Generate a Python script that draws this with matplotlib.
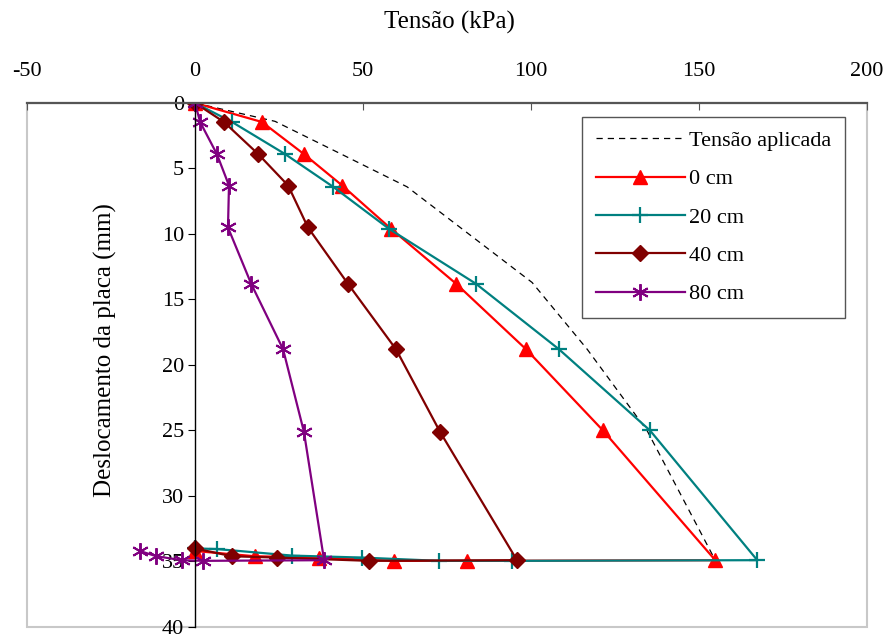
import matplotlib.pyplot as plt
from matplotlib.patches import Rectangle

# Tensão (kPa) x Deslocamento (mm) for each depth
aplicada_x = [0, 23.8, 43.5, 63.1, 78.9, 100.3, 116.7, 134.5, 154.8]
aplicada_y = [0, 1.4, 3.9, 6.4, 9.5, 13.7, 18.8, 25.0, 34.9]

cm0_x = [0, 19.9, 32.4, 43.8, 58.3, 77.7, 98.5, 121.4, 154.8, 81.0, 59.2, 36.9, 17.9, 0]
cm0_y = [0, 1.45, 3.9, 6.3, 9.6, 13.8, 18.8, 25.0, 34.9, 34.95, 34.95, 34.7, 34.6, 34.2]

cm20_x = [0, 11.0, 26.8, 41.1, 57.7, 83.6, 108.3, 135.4, 167.3, 94.3, 72.6, 49.7, 28.9, 6.5, 0]
cm20_y = [0, 1.45, 3.9, 6.4, 9.6, 13.8, 18.8, 25.0, 34.9, 34.95, 34.95, 34.7, 34.55, 34.05, 34.0]

cm40_x = [0, 8.6, 18.8, 27.7, 33.6, 45.5, 59.8, 72.9, 95.8, 51.8, 24.4, 11.0, 0]
cm40_y = [0, 1.45, 3.9, 6.3, 9.5, 13.8, 18.8, 25.1, 34.9, 34.95, 34.7, 34.6, 34.0]

cm80_x = [0, 1.5, 6.5, 10.1, 9.8, 16.7, 26.2, 32.4, 38.4, 2.4, -3.9, -11.5, -16.4]
cm80_y = [0, 1.45, 3.9, 6.3, 9.5, 13.8, 18.8, 25.1, 34.9, 34.95, 34.9, 34.6, 34.2]

x_ticks = [-50, 0, 50, 100, 150, 200]
y_ticks = [0, 5, 10, 15, 20, 25, 30, 35, 40]

plt.rcParams['font.family'] = ['Liberation Serif', 'DejaVu Serif']
plt.rcParams['font.size'] = 16
plt.rcParams['axes.unicode_minus'] = False

fig = plt.figure(figsize=(8.89, 6.35), dpi=100)
ax = fig.add_axes([0.0304, 0.0126, 0.945, 0.8252])

ax.plot(aplicada_x, aplicada_y, color='black', lw=0.9, ls=(0, (5, 4)),
        label='Tensão aplicada')
ax.plot(cm0_x, cm0_y, color='#FF0000', lw=1.6, marker='^', ms=10,
        label='0 cm')
ax.plot(cm20_x, cm20_y, color='#008080', lw=1.6, marker='+', ms=12,
        mew=1.6, label='20 cm')
ax.plot(cm40_x, cm40_y, color='#800000', lw=1.6, marker='D', ms=8,
        label='40 cm')
ax.plot(cm80_x, cm80_y, color='#800080', lw=1.6, marker=(6, 2, 0), ms=12,
        mew=1.4, label='80 cm')

ax.set_xlim(-50, 200)
ax.set_ylim(40, 0)
ax.set_xticks(x_ticks)
ax.set_yticks(y_ticks)

# axes cross at zero, Excel style
ax.spines['bottom'].set_visible(False)
ax.spines['right'].set_visible(False)
ax.spines['top'].set_color('#555555')
ax.spines['top'].set_linewidth(1.6)
ax.spines['left'].set_position(('data', 0))
ax.spines['left'].set_color('black')
ax.spines['left'].set_linewidth(1.0)

ax.xaxis.set_ticks_position('top')
ax.tick_params(axis='x', direction='in', length=5, pad=16, color='#555555',
               labelsize=16)
ax.tick_params(axis='y', direction='out', length=5, pad=3, labelsize=16)

# light grey plot-area frame
ax.add_patch(Rectangle((0, 0), 1, 1, transform=ax.transAxes, fill=False,
                       ec='#C8C8C8', lw=1.5, zorder=0, clip_on=False))

fig.text(0.505, 1 - 22 / 635, 'Tensão (kPa)', ha='center', va='center',
         fontsize=18)
fig.text(105 / 889, 1 - 350 / 635, 'Deslocamento da placa (mm)',
         rotation=90, ha='center', va='center', fontsize=18)

leg = ax.legend(loc='upper left', bbox_to_anchor=(0.661, 0.973),
                borderaxespad=0, fancybox=False, edgecolor='#555555',
                framealpha=1, handlelength=4.0, labelspacing=0.8,
                borderpad=0.6, handletextpad=0.2, fontsize=16)
leg.get_frame().set_linewidth(1.0)

fig.savefig('out.png', dpi=100)
